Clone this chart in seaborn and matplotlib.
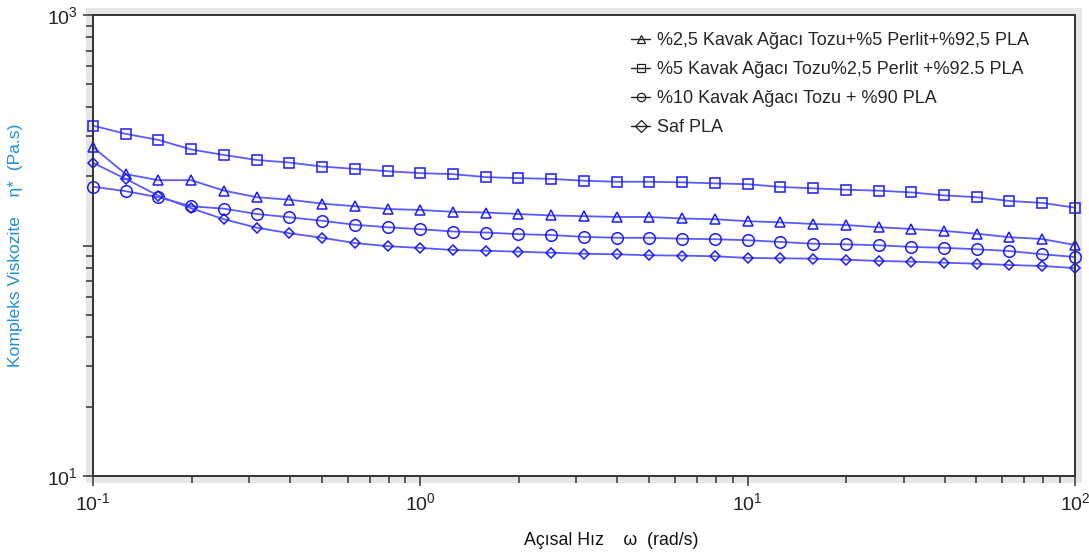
import numpy as np
import pandas as pd
import matplotlib
matplotlib.use("Agg")
import matplotlib.pyplot as plt
from matplotlib.lines import Line2D
from matplotlib.patches import Rectangle
from matplotlib.ticker import LogLocator, FixedLocator, FixedFormatter, NullFormatter
import seaborn as sns

# Angular frequency sweep, 10 points per decade
omega = [0.1, 0.1259, 0.1585, 0.1995, 0.2512, 0.3162, 0.3981, 0.5012, 0.6310, 0.7943,
         1.0, 1.259, 1.585, 1.995, 2.512, 3.162, 3.981, 5.012, 6.310, 7.943,
         10.0, 12.59, 15.85, 19.95, 25.12, 31.62, 39.81, 50.12, 63.10, 79.43, 100.0]

# Complex viscosity (Pa.s)
eta_kavak25_perlit5 = [267, 204, 192, 192, 173, 162, 158, 152, 148, 144,
                       142.6, 140, 139, 137, 135, 134, 133, 133, 131, 130,
                       127.5, 126, 124, 122.7, 120, 118, 115.7, 112.5, 108.6, 106.7, 100.5]
eta_kavak5_perlit25 = [331, 305, 287, 261, 247, 235, 229, 220, 215, 210,
                       206, 204, 198, 196, 194.5, 191, 189, 189, 188, 186,
                       184.5, 179.5, 177, 174.6, 172.9, 170, 165, 162, 156, 153, 146]
eta_kavak10 = [180, 172, 162, 148, 144.5, 137, 132.6, 128, 123, 120,
               117.7, 115, 113.8, 112, 111, 109, 108, 108, 107, 106.5,
               105.4, 103.6, 101.8, 101.2, 100.2, 98.6, 97.7, 96.3, 94.6, 91.6, 89.2]
eta_saf_pla = [228.5, 194.5, 164.4, 145, 130, 119.5, 113, 108, 102.5, 99.3,
               97.6, 95.6, 94.9, 94, 93, 92.1, 91.6, 90.7, 90.4, 89.8,
               88.3, 88, 87.7, 86.8, 85.7, 85.1, 84.2, 83.4, 82.3, 81.5, 79.8]

labels = ["%2,5 Kavak Ağacı Tozu+%5 Perlit+%92,5 PLA",
          "%5 Kavak Ağacı Tozu%2,5 Perlit +%92.5 PLA",
          "%10 Kavak Ağacı Tozu + %90 PLA",
          "Saf PLA"]
series = [eta_kavak25_perlit5, eta_kavak5_perlit25, eta_kavak10, eta_saf_pla]
markers = ["^", "s", "o", "D"]
msizes = [7.0, 6.6, 8.3, 5.5]

x_ticklabels = [r"$10^{\text{-1}}$", r"$10^{0}$", r"$10^{1}$", r"$10^{2}$"]
y_ticklabels = [r"$10^{1}$", "", r"$10^{3}$"]

sns.set_theme(style="white")
plt.rcParams["font.family"] = ["Liberation Sans", "DejaVu Sans"]
plt.rcParams["mathtext.fontset"] = "custom"
plt.rcParams["mathtext.rm"] = "Liberation Sans"
plt.rcParams["mathtext.it"] = "Liberation Sans"

fig = plt.figure(figsize=(10.89, 5.53), dpi=100)
fig.patch.set_facecolor("white")
ax = fig.add_axes([0.0854, 0.1392, 0.9017, 0.8337])
ax.set_zorder(2)

# soft grey band around the plotting frame
pad_x, pad_y = 7 / 1089, 7 / 553
fig.patches.append(Rectangle((0.0854 - pad_x, 0.1392 - pad_y), 0.9017 + 2 * pad_x, 0.8337 + 2 * pad_y,
                             transform=fig.transFigure, facecolor="#e6e6e6", edgecolor="none", zorder=-1))

line_blue = "#5a5aff"
for vals, mk, ms in zip(series, markers, msizes):
    df = pd.DataFrame({"omega": omega, "eta": vals})
    sns.lineplot(data=df, x="omega", y="eta", ax=ax, color=line_blue, linewidth=1.3,
                 marker=mk, markersize=ms, markerfacecolor="none",
                 markeredgecolor="#1a1aff", markeredgewidth=1.1, legend=False, clip_on=False)

ax.set_xscale("log")
ax.set_yscale("log")
ax.set_xlim(0.1, 100)
ax.set_ylim(10, 1000)
ax.set_facecolor("white")

ax.xaxis.set_major_locator(FixedLocator([0.1, 1, 10, 100]))
ax.xaxis.set_major_formatter(FixedFormatter(x_ticklabels))
ax.yaxis.set_major_locator(FixedLocator([10, 100, 1000]))
ax.yaxis.set_major_formatter(FixedFormatter(y_ticklabels))
ax.xaxis.set_minor_locator(LogLocator(base=10, subs=np.arange(2, 10)))
ax.yaxis.set_minor_locator(LogLocator(base=10, subs=np.arange(2, 10)))
ax.xaxis.set_minor_formatter(NullFormatter())
ax.yaxis.set_minor_formatter(NullFormatter())

ax.tick_params(axis="both", which="major", direction="out", length=7, width=1.1, color="#333333",
               labelsize=14, labelcolor="#222222", bottom=True, left=True, top=False, right=False)
ax.tick_params(axis="both", which="minor", direction="out", length=5, width=1.1, color="#333333",
               bottom=True, left=True, top=False, right=False)
ax.tick_params(axis="y", which="major", pad=4)
ax.tick_params(axis="x", which="major", pad=5)

for sp in ax.spines.values():
    sp.set_visible(True)
    sp.set_color("#333333")
    sp.set_linewidth(1.4)

ax.set_xlabel("")
ax.set_ylabel("")
fig.text(0.561, 0.0235, "Açısal Hız    ω  (rad/s)", fontsize=12.8, color="#111111",
         ha="center", va="center")
fig.text(0.014, 0.557, "Kompleks Viskozite    η*  (Pa.s)", fontsize=12.6, color="#1f8fd8",
         rotation=90, ha="center", va="center")

handles = [Line2D([], [], color="#222222", linewidth=1.0, marker=mk, markersize=6,
                  markerfacecolor="none", markeredgecolor="#222222", markeredgewidth=0.9)
           for mk in markers]
ax.legend(handles, labels, loc="upper left", bbox_to_anchor=(0.541, 0.978), frameon=False,
          fontsize=13, handlelength=1.05, handletextpad=0.35, labelspacing=0.66,
          borderaxespad=0.0)

fig.savefig("out.png", dpi=100, facecolor="white")
